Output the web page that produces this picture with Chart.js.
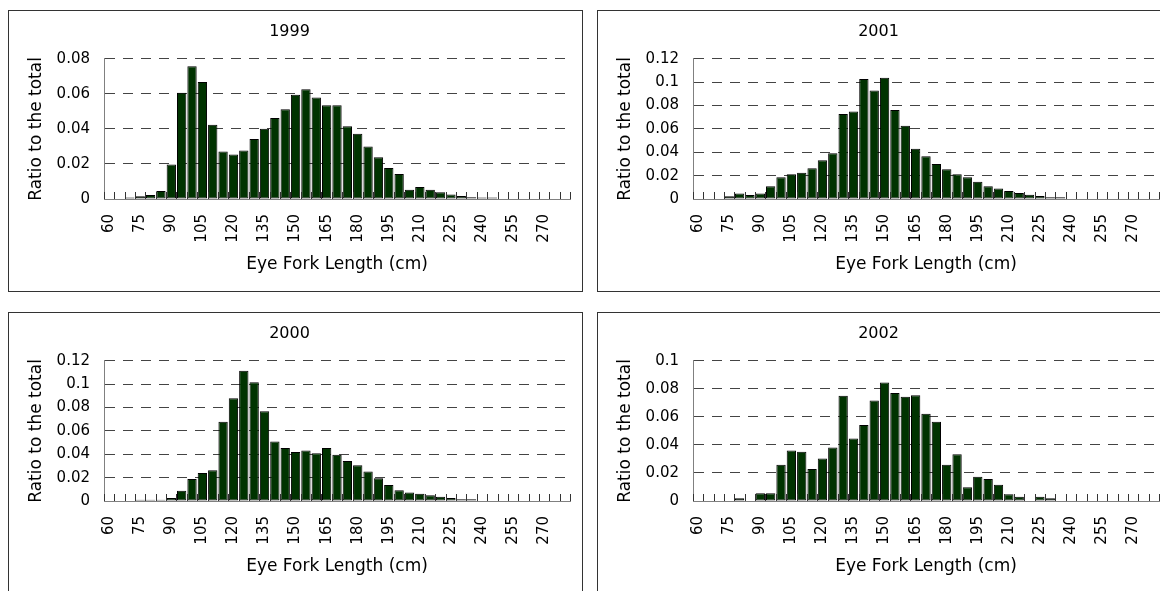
<!DOCTYPE html>
<html>
<head>
<meta charset="utf-8">
<script src="https://cdn.jsdelivr.net/npm/chart.js@4"></script>
<style>
  html, body { margin: 0; padding: 0; background: #fff; }
  body { width: 1160px; height: 591px; overflow: hidden; position: relative; }
  .panel { position: absolute; width: 575px; height: 282px; border: 1px solid #333; box-sizing: border-box; background: #fff; }
  .panel canvas { display: block; }
</style>
</head>
<body>
<div class="panel" style="left:8px;top:10px"><canvas id="c1999" width="573" height="280"></canvas></div>
<div class="panel" style="left:597px;top:10px"><canvas id="c2001" width="573" height="280"></canvas></div>
<div class="panel" style="left:8px;top:312px"><canvas id="c2000" width="573" height="280"></canvas></div>
<div class="panel" style="left:597px;top:312px"><canvas id="c2002" width="573" height="280"></canvas></div>
<script>
const lengths = [60, 65, 70, 75, 80, 85, 90, 95, 100, 105, 110, 115, 120, 125, 130, 135, 140, 145, 150, 155,
  160, 165, 170, 175, 180, 185, 190, 195, 200, 205, 210, 215, 220, 225, 230, 235, 240, 245, 250, 255,
  260, 265, 270, 275, 280];

const ratio1999 = [0, 0, 0.0008, 0.0015, 0.0023, 0.0046, 0.0197, 0.0607, 0.0758, 0.0668, 0.0424, 0.0271, 0.0254, 0.0277, 0.0342,
  0.0401, 0.0462, 0.0513, 0.0595, 0.0626, 0.058, 0.0536, 0.0536, 0.0416, 0.0372, 0.030, 0.0239, 0.0177, 0.0143, 0.0053,
  0.0069, 0.0053, 0.0038, 0.0025, 0.0017, 0.001, 0.0008, 0.0008, 0, 0, 0, 0, 0, 0, 0];

const ratio2001 = [0, 0, 0, 0.0023, 0.0048, 0.0034, 0.0048, 0.011, 0.0187, 0.0213, 0.0224, 0.0264, 0.0332, 0.0391, 0.0729,
  0.0749, 0.1027, 0.093, 0.1038, 0.0763, 0.0627, 0.0431, 0.0366, 0.030, 0.0255, 0.0213, 0.0187, 0.0148, 0.011, 0.0091,
  0.0068, 0.0051, 0.0037, 0.0026, 0.0014, 0.0014, 0, 0, 0, 0, 0, 0, 0, 0, 0];

const ratio2000 = [0, 0, 0, 0.0011, 0.0011, 0.0011, 0.0026, 0.0088, 0.0188, 0.024, 0.0264, 0.0678, 0.0881, 0.1116, 0.1017,
  0.0768, 0.051, 0.0455, 0.042, 0.0432, 0.0409, 0.0455, 0.0397, 0.0342, 0.0307, 0.0252, 0.0194, 0.0136, 0.0093, 0.0072,
  0.0063, 0.0049, 0.0037, 0.0026, 0.0014, 0.0014, 0, 0, 0, 0, 0, 0, 0, 0, 0];

const ratio2002 = [0, 0, 0, 0, 0.0019, 0, 0.0055, 0.0055, 0.0258, 0.0361, 0.0352, 0.0229, 0.0304, 0.0381, 0.0752,
  0.0446, 0.0542, 0.0718, 0.0846, 0.0771, 0.0745, 0.0754, 0.0622, 0.0566, 0.0258, 0.0333, 0.0099, 0.0173, 0.0157, 0.0116,
  0.0048, 0.003, 0, 0.003, 0.002, 0, 0, 0, 0, 0, 0, 0, 0, 0, 0];

const yMax = { 1999: 0.08, 2001: 0.12, 2000: 0.12, 2002: 0.1 };

Chart.defaults.font.family = "'DejaVu Sans', sans-serif";
Chart.defaults.color = '#000';

// small tick marks standing up from the x axis at every category boundary
const innerTicks = {
  id: 'innerTicks',
  afterDatasetsDraw(chart) {
    const x = chart.scales.x;
    const base = chart.chartArea.bottom;
    const ctx = chart.ctx;
    ctx.save();
    ctx.strokeStyle = '#333';
    ctx.lineWidth = 1;
    ctx.beginPath();
    for (let i = 0; i <= lengths.length; i++) {
      const px = Math.round(x.getPixelForValue(i - 0.5)) + 0.5;
      ctx.moveTo(px, base);
      ctx.lineTo(px, base - 7);
    }
    ctx.stroke();
    ctx.restore();
  }
};

const makeChart = (id, year, values) => {
  new Chart(document.getElementById(id), {
    type: 'bar',
    data: {
      labels: lengths.map(String),
      datasets: [{
        data: values,
        backgroundColor: '#003300',
        borderColor: '#000',
        borderWidth: 1,
        borderSkipped: false,
        barPercentage: 0.9,
        categoryPercentage: 1.0
      }]
    },
    options: {
      responsive: false,
      animation: false,
      layout: { padding: { left: 0, right: 12, top: 0, bottom: 0 } },
      plugins: {
        legend: { display: false },
        tooltip: { enabled: false },
        title: {
          display: true,
          text: String(year),
          font: { size: 16, weight: 'normal' },
          padding: { top: 11, bottom: 17.7 }
        }
      },
      scales: {
        x: {
          afterFit: s => {
            s.height = 92;
            s.paddingLeft = 0;
            s.paddingRight = 0;
          },
          grid: { drawOnChartArea: false, drawTicks: false },
          border: { color: '#808080', width: 1 },
          ticks: {
            autoSkip: false,
            minRotation: 90,
            maxRotation: 90,
            padding: 15,
            font: { size: 15 },
            callback: (v, i) => (i % 3 === 0 ? lengths[i] : '')
          },
          title: {
            display: true,
            text: 'Eye Fork Length (cm)',
            font: { size: 17 },
            padding: { top: 0, bottom: 15.8 }
          }
        },
        y: {
          min: 0,
          max: yMax[year],
          afterFit: s => { s.width = 95; },
          grid: {
            drawTicks: false,
            color: c => (c.tick && c.tick.value === 0 ? 'rgba(0,0,0,0)' : '#444')
          },
          border: { color: '#808080', width: 1, dash: [10, 8] },
          ticks: {
            stepSize: 0.02,
            padding: 14,
            font: { size: 15 },
            callback: v => String(+v.toFixed(2))
          },
          title: {
            display: true,
            text: 'Ratio to the total',
            font: { size: 17 },
            padding: { top: 17.8, bottom: 0 }
          }
        }
      }
    },
    plugins: [innerTicks]
  });
};

makeChart('c1999', 1999, ratio1999);
makeChart('c2001', 2001, ratio2001);
makeChart('c2000', 2000, ratio2000);
makeChart('c2002', 2002, ratio2002);
</script>
</body>
</html>
